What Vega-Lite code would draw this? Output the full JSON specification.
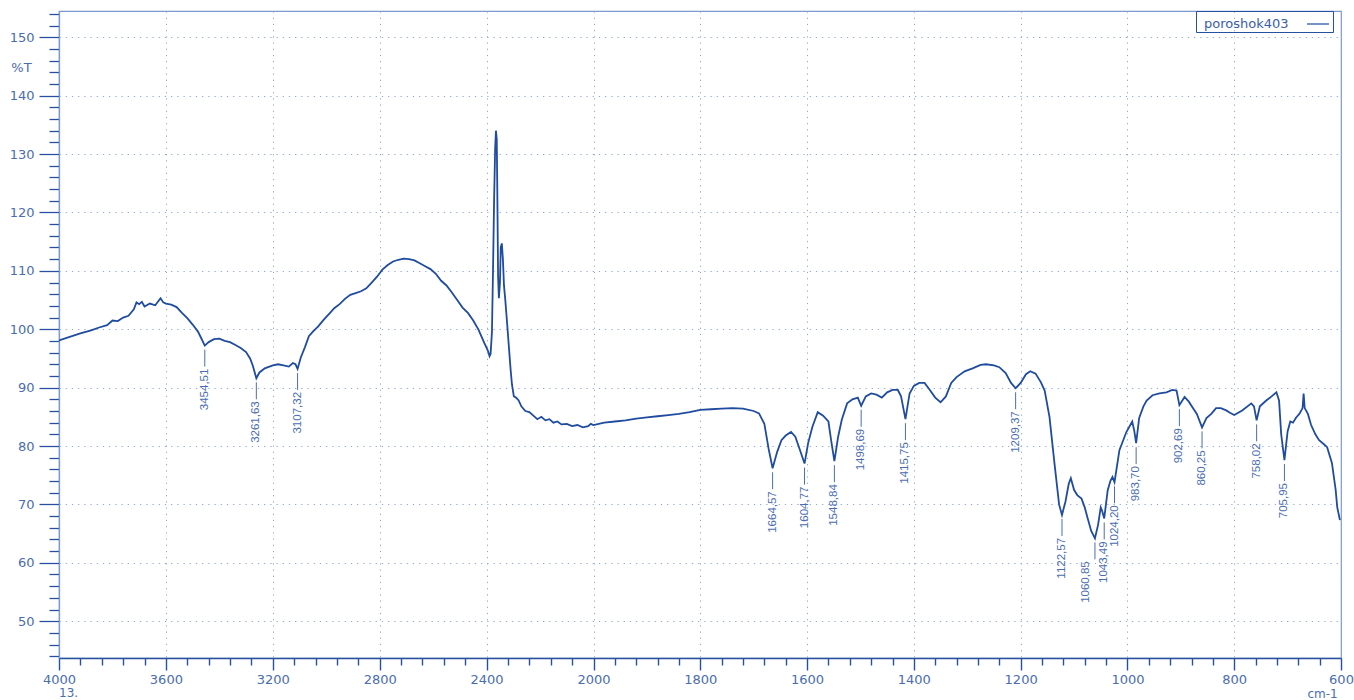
{
  "$schema": "https://vega.github.io/schema/vega-lite/v6.json",
  "width": 1282,
  "height": 647,
  "autosize": {"type": "none"},
  "padding": {"left": 59, "top": 11, "right": 13, "bottom": 42},
  "background": "white",
  "config": {
    "view": {"stroke": "#7d97cf", "strokeWidth": 1.2},
    "font": "DejaVu Sans"
  },
  "title": {
    "text": "13.",
    "orient": "bottom",
    "anchor": "start",
    "frame": "group",
    "fontSize": 12,
    "fontWeight": "normal",
    "font": "DejaVu Sans",
    "color": "#4a6db0",
    "offset": 0,
    "dy": -11
  },
  "datasets": {
    "spectrum": [
      {"wn": 4000, "T": 98.1}, {"wn": 3960, "T": 98.7}, {"wn": 3920, "T": 99.3}, {"wn": 3880, "T": 99.8},
      {"wn": 3850, "T": 100.3}, {"wn": 3820, "T": 100.7}, {"wn": 3800, "T": 101.5}, {"wn": 3780, "T": 101.4},
      {"wn": 3760, "T": 102.0}, {"wn": 3740, "T": 102.3}, {"wn": 3720, "T": 103.4}, {"wn": 3710, "T": 104.6},
      {"wn": 3700, "T": 104.3}, {"wn": 3690, "T": 104.7}, {"wn": 3680, "T": 103.9}, {"wn": 3660, "T": 104.4},
      {"wn": 3640, "T": 104.1}, {"wn": 3620, "T": 105.3}, {"wn": 3610, "T": 104.6}, {"wn": 3600, "T": 104.4},
      {"wn": 3580, "T": 104.2}, {"wn": 3560, "T": 103.8}, {"wn": 3540, "T": 102.8}, {"wn": 3520, "T": 101.9},
      {"wn": 3500, "T": 100.8}, {"wn": 3480, "T": 99.6}, {"wn": 3465, "T": 98.2}, {"wn": 3454.51, "T": 97.2},
      {"wn": 3440, "T": 97.8}, {"wn": 3420, "T": 98.3}, {"wn": 3400, "T": 98.4}, {"wn": 3380, "T": 98.0},
      {"wn": 3360, "T": 97.8}, {"wn": 3340, "T": 97.3}, {"wn": 3320, "T": 96.8}, {"wn": 3300, "T": 96.1},
      {"wn": 3285, "T": 95.0}, {"wn": 3275, "T": 93.8}, {"wn": 3261.63, "T": 91.6}, {"wn": 3250, "T": 92.6},
      {"wn": 3230, "T": 93.3}, {"wn": 3200, "T": 93.8}, {"wn": 3180, "T": 94.0}, {"wn": 3160, "T": 93.8},
      {"wn": 3140, "T": 93.6}, {"wn": 3125, "T": 94.2}, {"wn": 3115, "T": 94.0}, {"wn": 3107.32, "T": 93.2},
      {"wn": 3095, "T": 95.2}, {"wn": 3080, "T": 96.9}, {"wn": 3065, "T": 98.8}, {"wn": 3050, "T": 99.6},
      {"wn": 3030, "T": 100.5}, {"wn": 3010, "T": 101.6}, {"wn": 2990, "T": 102.6}, {"wn": 2970, "T": 103.6},
      {"wn": 2950, "T": 104.3}, {"wn": 2930, "T": 105.2}, {"wn": 2910, "T": 105.9}, {"wn": 2890, "T": 106.2},
      {"wn": 2870, "T": 106.5}, {"wn": 2850, "T": 107.0}, {"wn": 2830, "T": 108.0}, {"wn": 2810, "T": 109.0},
      {"wn": 2790, "T": 110.2}, {"wn": 2770, "T": 111.0}, {"wn": 2750, "T": 111.6}, {"wn": 2730, "T": 111.9},
      {"wn": 2710, "T": 112.1}, {"wn": 2690, "T": 112.0}, {"wn": 2670, "T": 111.8}, {"wn": 2650, "T": 111.3},
      {"wn": 2630, "T": 110.8}, {"wn": 2610, "T": 110.3}, {"wn": 2590, "T": 109.5}, {"wn": 2570, "T": 108.3},
      {"wn": 2550, "T": 107.5}, {"wn": 2530, "T": 106.3}, {"wn": 2510, "T": 105.0}, {"wn": 2490, "T": 103.7},
      {"wn": 2470, "T": 102.8}, {"wn": 2450, "T": 101.5}, {"wn": 2430, "T": 99.9}, {"wn": 2410, "T": 97.8},
      {"wn": 2395, "T": 96.3}, {"wn": 2389, "T": 95.4}, {"wn": 2385, "T": 95.8}, {"wn": 2380, "T": 99.5},
      {"wn": 2376, "T": 110.0}, {"wn": 2372, "T": 122.0}, {"wn": 2368, "T": 131.0}, {"wn": 2365, "T": 134.0},
      {"wn": 2362, "T": 132.5}, {"wn": 2360, "T": 124.0}, {"wn": 2357, "T": 109.0}, {"wn": 2354, "T": 105.3},
      {"wn": 2350, "T": 108.0}, {"wn": 2347, "T": 114.0}, {"wn": 2343, "T": 114.7}, {"wn": 2339, "T": 112.0},
      {"wn": 2335, "T": 107.5}, {"wn": 2330, "T": 105.0}, {"wn": 2322, "T": 100.3}, {"wn": 2315, "T": 96.0},
      {"wn": 2310, "T": 93.0}, {"wn": 2305, "T": 90.5}, {"wn": 2298, "T": 88.5}, {"wn": 2290, "T": 88.3},
      {"wn": 2280, "T": 87.8}, {"wn": 2270, "T": 86.8}, {"wn": 2255, "T": 86.0}, {"wn": 2240, "T": 85.8},
      {"wn": 2225, "T": 85.2}, {"wn": 2210, "T": 84.6}, {"wn": 2195, "T": 85.0}, {"wn": 2180, "T": 84.4},
      {"wn": 2165, "T": 84.6}, {"wn": 2150, "T": 84.0}, {"wn": 2135, "T": 84.2}, {"wn": 2120, "T": 83.7},
      {"wn": 2100, "T": 83.8}, {"wn": 2080, "T": 83.4}, {"wn": 2060, "T": 83.6}, {"wn": 2040, "T": 83.2},
      {"wn": 2020, "T": 83.4}, {"wn": 2010, "T": 83.8}, {"wn": 2000, "T": 83.6}, {"wn": 1980, "T": 84.0},
      {"wn": 1960, "T": 84.2}, {"wn": 1940, "T": 84.4}, {"wn": 1920, "T": 84.7}, {"wn": 1900, "T": 84.9},
      {"wn": 1880, "T": 85.1}, {"wn": 1860, "T": 85.3}, {"wn": 1840, "T": 85.5}, {"wn": 1820, "T": 85.8},
      {"wn": 1800, "T": 86.2}, {"wn": 1780, "T": 86.3}, {"wn": 1760, "T": 86.4}, {"wn": 1740, "T": 86.5},
      {"wn": 1720, "T": 86.4}, {"wn": 1700, "T": 86.0}, {"wn": 1690, "T": 85.6}, {"wn": 1680, "T": 83.8},
      {"wn": 1672, "T": 79.5}, {"wn": 1664.57, "T": 76.2}, {"wn": 1656, "T": 79.0}, {"wn": 1648, "T": 81.0},
      {"wn": 1640, "T": 81.8}, {"wn": 1630, "T": 82.4}, {"wn": 1622, "T": 81.6}, {"wn": 1614, "T": 79.5},
      {"wn": 1604.77, "T": 77.0}, {"wn": 1598, "T": 80.5}, {"wn": 1590, "T": 83.3}, {"wn": 1580, "T": 85.8},
      {"wn": 1570, "T": 85.2}, {"wn": 1560, "T": 84.2}, {"wn": 1555, "T": 81.0}, {"wn": 1548.84, "T": 77.4},
      {"wn": 1542, "T": 81.5}, {"wn": 1535, "T": 84.5}, {"wn": 1525, "T": 87.3}, {"wn": 1515, "T": 88.0},
      {"wn": 1505, "T": 88.3}, {"wn": 1498.69, "T": 86.9}, {"wn": 1490, "T": 88.5}, {"wn": 1480, "T": 89.0},
      {"wn": 1470, "T": 88.8}, {"wn": 1460, "T": 88.3}, {"wn": 1450, "T": 89.2}, {"wn": 1440, "T": 89.6},
      {"wn": 1430, "T": 89.6}, {"wn": 1424, "T": 88.5}, {"wn": 1415.75, "T": 84.6}, {"wn": 1408, "T": 89.0},
      {"wn": 1400, "T": 90.3}, {"wn": 1390, "T": 90.8}, {"wn": 1380, "T": 90.8}, {"wn": 1370, "T": 89.6},
      {"wn": 1360, "T": 88.3}, {"wn": 1350, "T": 87.5}, {"wn": 1340, "T": 88.5}, {"wn": 1330, "T": 90.8},
      {"wn": 1320, "T": 91.8}, {"wn": 1305, "T": 92.8}, {"wn": 1290, "T": 93.3}, {"wn": 1275, "T": 93.9},
      {"wn": 1265, "T": 94.0}, {"wn": 1250, "T": 93.8}, {"wn": 1240, "T": 93.5}, {"wn": 1228, "T": 92.5},
      {"wn": 1218, "T": 90.8}, {"wn": 1209.37, "T": 89.9}, {"wn": 1200, "T": 90.8}, {"wn": 1190, "T": 92.3},
      {"wn": 1182, "T": 92.8}, {"wn": 1172, "T": 92.4}, {"wn": 1162, "T": 90.9}, {"wn": 1155, "T": 89.5},
      {"wn": 1146, "T": 85.0}, {"wn": 1136, "T": 76.5}, {"wn": 1128, "T": 70.0}, {"wn": 1122.57, "T": 68.2},
      {"wn": 1116, "T": 70.5}, {"wn": 1110, "T": 73.5}, {"wn": 1106, "T": 74.5}, {"wn": 1100, "T": 72.5},
      {"wn": 1094, "T": 71.6}, {"wn": 1086, "T": 71.0}, {"wn": 1080, "T": 69.5}, {"wn": 1075, "T": 67.8},
      {"wn": 1068, "T": 65.5}, {"wn": 1060.85, "T": 64.2}, {"wn": 1055, "T": 66.5}, {"wn": 1050, "T": 69.5},
      {"wn": 1047, "T": 68.8}, {"wn": 1043.49, "T": 67.6}, {"wn": 1037, "T": 72.4}, {"wn": 1032, "T": 74.0},
      {"wn": 1028, "T": 74.7}, {"wn": 1024.2, "T": 73.8}, {"wn": 1015, "T": 79.3}, {"wn": 1002, "T": 82.4},
      {"wn": 991, "T": 84.2}, {"wn": 987, "T": 82.5}, {"wn": 983.7, "T": 80.5}, {"wn": 978, "T": 84.8},
      {"wn": 970, "T": 86.8}, {"wn": 964, "T": 87.8}, {"wn": 953, "T": 88.7}, {"wn": 940, "T": 89.0},
      {"wn": 927, "T": 89.2}, {"wn": 916, "T": 89.6}, {"wn": 908, "T": 89.5}, {"wn": 902.69, "T": 87.0},
      {"wn": 893, "T": 88.4}, {"wn": 885, "T": 87.6}, {"wn": 878, "T": 86.6}, {"wn": 870, "T": 85.5},
      {"wn": 860.25, "T": 83.2}, {"wn": 852, "T": 84.8}, {"wn": 843, "T": 85.5}, {"wn": 834, "T": 86.5},
      {"wn": 825, "T": 86.5}, {"wn": 815, "T": 86.1}, {"wn": 808, "T": 85.7}, {"wn": 800, "T": 85.3},
      {"wn": 785, "T": 86.1}, {"wn": 768, "T": 87.3}, {"wn": 763, "T": 86.8}, {"wn": 758.02, "T": 84.4},
      {"wn": 752, "T": 86.8}, {"wn": 740, "T": 87.8}, {"wn": 730, "T": 88.5}, {"wn": 721, "T": 89.2},
      {"wn": 716, "T": 87.8}, {"wn": 712, "T": 82.0}, {"wn": 705.95, "T": 77.6}, {"wn": 700, "T": 82.5},
      {"wn": 695, "T": 84.2}, {"wn": 690, "T": 84.0}, {"wn": 684, "T": 84.9}, {"wn": 678, "T": 85.5},
      {"wn": 672, "T": 86.5}, {"wn": 670, "T": 89.0}, {"wn": 668, "T": 86.5}, {"wn": 662, "T": 85.5},
      {"wn": 656, "T": 83.6}, {"wn": 648, "T": 82.0}, {"wn": 641, "T": 81.0}, {"wn": 632, "T": 80.3},
      {"wn": 626, "T": 79.8}, {"wn": 617, "T": 77.1}, {"wn": 610, "T": 72.5}, {"wn": 607, "T": 69.5},
      {"wn": 602, "T": 67.3}
    ],
    "peaks": [
      {"wn": 3454.51, "T": 97.2, "label": "3454,51"},
      {"wn": 3261.63, "T": 91.6, "label": "3261,63"},
      {"wn": 3107.32, "T": 93.2, "label": "3107,32"},
      {"wn": 1664.57, "T": 76.2, "label": "1664,57"},
      {"wn": 1604.77, "T": 77.0, "label": "1604,77"},
      {"wn": 1548.84, "T": 77.4, "label": "1548,84"},
      {"wn": 1498.69, "T": 86.9, "label": "1498,69"},
      {"wn": 1415.75, "T": 84.6, "label": "1415,75"},
      {"wn": 1209.37, "T": 89.9, "label": "1209,37"},
      {"wn": 1122.57, "T": 68.2, "label": "1122,57"},
      {"wn": 1060.85, "T": 64.2, "label": "1060,85"},
      {"wn": 1043.49, "T": 67.6, "label": "1043,49"},
      {"wn": 1024.2, "T": 73.8, "label": "1024,20"},
      {"wn": 983.7, "T": 80.5, "label": "983,70"},
      {"wn": 902.69, "T": 87.0, "label": "902,69"},
      {"wn": 860.25, "T": 83.2, "label": "860,25"},
      {"wn": 758.02, "T": 84.4, "label": "758,02"},
      {"wn": 705.95, "T": 77.6, "label": "705,95"}
    ]
  },
  "encoding": {
    "x": {
      "field": "wn",
      "type": "quantitative",
      "scale": {"domain": [4000, 2000, 600], "range": [0, 534.5, 1282], "zero": false, "nice": false},
      "axis": {
        "values": [4000, 3920, 3840, 3760, 3680, 3600, 3520, 3440, 3360, 3280, 3200, 3120, 3040, 2960, 2880, 2800, 2720, 2640, 2560, 2480, 2400, 2320, 2240, 2160, 2080, 2000, 1960, 1920, 1880, 1840, 1800, 1760, 1720, 1680, 1640, 1600, 1560, 1520, 1480, 1440, 1400, 1360, 1320, 1280, 1240, 1200, 1160, 1120, 1080, 1040, 1000, 960, 920, 880, 840, 800, 760, 720, 680, 640, 600],
        "labelExpr": "(datum.value >= 2000 ? datum.value % 400 == 0 : datum.value % 200 == 0) ? datum.label : ''",
        "format": "d",
        "labelOverlap": false,
        "labelFlush": false,
        "labelFont": "DejaVu Sans",
        "labelFontSize": 13,
        "labelColor": "#4a6db0",
        "labelPadding": 3,
        "tickColor": "#2850a0",
        "tickWidth": 1.4,
        "tickSize": 12,
        "tickDash": {"condition": {"test": "datum.value >= 2000 ? datum.value % 400 != 0 : datum.value % 200 != 0", "value": [7, 30]}, "value": [12, 0]},
        "domainColor": "#2850a0",
        "domainWidth": 1.3,
        "grid": true,
        "gridColor": "#8ea4d6",
        "gridDash": [1.2, 5],
        "gridWidth": 1,
        "gridOpacity": {"condition": {"test": "datum.value >= 2000 ? datum.value % 400 == 0 : datum.value % 200 == 0", "value": 1}, "value": 0},
        "title": "cm-1",
        "titleFont": "DejaVu Sans",
        "titleFontSize": 12,
        "titleFontWeight": "normal",
        "titleColor": "#4a6db0",
        "titleX": 1263,
        "titleY": 35,
        "titleAlign": "center",
        "titleBaseline": "middle"
      }
    },
    "y": {
      "field": "T",
      "type": "quantitative",
      "scale": {"domain": [43.7, 154.5], "zero": false, "nice": false},
      "axis": {
        "values": [44, 46, 48, 50, 52, 54, 56, 58, 60, 62, 64, 66, 68, 70, 72, 74, 76, 78, 80, 82, 84, 86, 88, 90, 92, 94, 96, 98, 100, 102, 104, 106, 108, 110, 112, 114, 116, 118, 120, 122, 124, 126, 128, 130, 132, 134, 136, 138, 140, 142, 144, 146, 148, 150, 152, 154],
        "labelExpr": "datum.value % 10 == 0 ? datum.label : ''",
        "labelOverlap": false,
        "labelFlush": false,
        "labelFont": "DejaVu Sans",
        "labelFontSize": 13,
        "labelColor": "#4a6db0",
        "labelPadding": 5,
        "tickColor": "#2850a0",
        "tickWidth": 1.3,
        "tickSize": {"condition": {"test": "datum.value % 10 != 0", "value": 10}, "value": 20},
        "domainColor": "#7d97cf",
        "domainWidth": 1.3,
        "grid": true,
        "gridColor": "#8ea4d6",
        "gridDash": [1.2, 5],
        "gridWidth": 1,
        "gridOpacity": {"condition": {"test": "datum.value % 10 == 0", "value": 1}, "value": 0},
        "title": "%T",
        "titleFont": "DejaVu Sans",
        "titleFontSize": 13,
        "titleFontWeight": "normal",
        "titleColor": "#4a6db0",
        "titleAngle": 0,
        "titleX": -38,
        "titleY": 56,
        "titleAlign": "center",
        "titleBaseline": "middle"
      }
    }
  },
  "layer": [
    {
      "data": {"values": [{}]},
      "mark": {"type": "rule", "color": "#7d97cf", "strokeWidth": 1.5},
      "encoding": {"x": {"datum": 2000}, "y": null}
    },
    {
      "data": {"name": "spectrum"},
      "mark": {"type": "line", "strokeWidth": 1.8, "clip": true},
      "encoding": {
        "color": {
          "datum": "poroshok403",
          "type": "nominal",
          "scale": {"range": ["#1f4c9e"]},
          "legend": {
            "orient": "none",
            "legendX": 1137,
            "legendY": 0,
            "title": null,
            "symbolType": "stroke",
            "symbolSize": 484,
            "symbolStrokeWidth": 1.2,
            "symbolOffset": 109,
            "labelOffset": -126,
            "labelFont": "DejaVu Sans",
            "labelFontSize": 13,
            "labelColor": "#3a5ea8",
            "strokeColor": "#2850a0",
            "padding": 1
          }
        }
      }
    },
    {
      "data": {"name": "peaks"},
      "mark": {"type": "rule", "color": "#4a6db0", "strokeWidth": 1, "yOffset": 4, "y2Offset": 21},
      "encoding": {"y2": {"field": "T"}}
    },
    {
      "data": {"name": "peaks"},
      "transform": [{"filter": "datum.label != '1060,85'"}],
      "mark": {"type": "text", "angle": 270, "align": "right", "baseline": "middle", "yOffset": 23, "font": "Liberation Sans", "fontSize": 11.5, "color": "#4a6db0"},
      "encoding": {"text": {"field": "label"}}
    },
    {
      "data": {"name": "peaks"},
      "transform": [{"filter": "datum.label == '1060,85'"}],
      "mark": {"type": "text", "angle": 270, "align": "right", "baseline": "middle", "yOffset": 23, "xOffset": -9, "font": "Liberation Sans", "fontSize": 11.5, "color": "#4a6db0"},
      "encoding": {"text": {"field": "label"}}
    }
  ]
}
